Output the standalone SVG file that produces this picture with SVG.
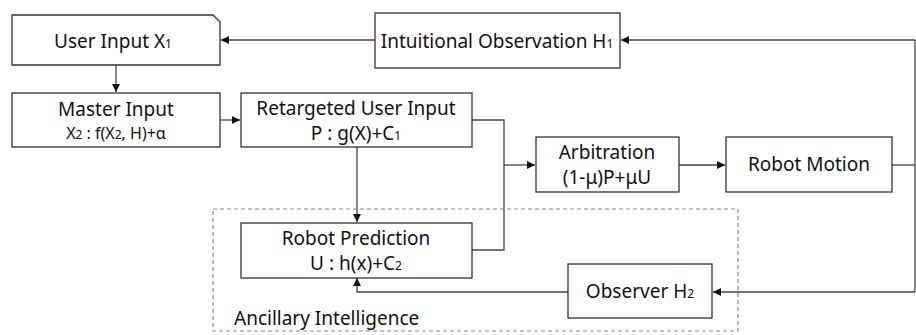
<svg xmlns="http://www.w3.org/2000/svg" width="916" height="335" viewBox="0 0 916 335">
  <style>
    .box { fill: #fff; stroke: #333; stroke-width: 1.3; }
    .wire { fill: none; stroke: #444; stroke-width: 1.3; }
    .t { font-family: "Noto Sans", "Open Sans", sans-serif; font-size: 19px; fill: #111; text-anchor: middle; }
    .s { font-size: 16px; }
    .sub { font-size: 12px; }
    .group { fill: none; stroke: #888; stroke-width: 1.2; stroke-dasharray: 4 3; }
  </style>
  <defs>
    <marker id="arrow" viewBox="0 0 10 10" refX="10" refY="5" markerWidth="8" markerHeight="8" markerUnits="userSpaceOnUse" orient="auto">
      <path d="M0,0 L10,5 L0,10 z" fill="#111"/>
    </marker>
  </defs>

  <rect width="916" height="335" fill="#fff"/>

  <!-- Ancillary Intelligence region -->
  <g id="ancillary">
    <rect class="group" x="213" y="209" width="525" height="122"/>
    <text class="t" x="234" y="325" style="text-anchor:start">Ancillary Intelligence</text>
  </g>

  <g id="connectors">
    <line class="wire" x1="915" y1="40" x2="621" y2="40" marker-end="url(#arrow)"/>
    <line class="wire" x1="375" y1="40" x2="221" y2="40" marker-end="url(#arrow)"/>
    <line class="wire" x1="116" y1="65" x2="116" y2="92" marker-end="url(#arrow)"/>
    <line class="wire" x1="220" y1="120" x2="240" y2="120" marker-end="url(#arrow)"/>
    <line class="wire" x1="357" y1="147" x2="357" y2="222" marker-end="url(#arrow)"/>
    <polyline class="wire" points="472,120 504,120 504,250 472,250"/>
    <line class="wire" x1="504" y1="165" x2="535" y2="165" marker-end="url(#arrow)"/>
    <line class="wire" x1="679" y1="165" x2="725" y2="165" marker-end="url(#arrow)"/>
    <polyline class="wire" points="892,165 915,165"/>
    <line class="wire" x1="915" y1="40" x2="915" y2="292"/>
    <line class="wire" x1="915" y1="292" x2="713" y2="292" marker-end="url(#arrow)"/>
    <polyline class="wire" points="568,292 357,292 357,278" marker-end="url(#arrow)"/>
  </g>

  <g id="user-input">
    <path class="box" d="M12,15 H213 L220,22 V65 H12 Z"/>
    <text class="t" x="113" y="48">User Input X<tspan class="sub">1</tspan></text>
  </g>

  <g id="intuitional-observation">
    <rect class="box" x="375" y="13" width="245" height="55"/>
    <text class="t" x="497" y="48">Intuitional Observation H<tspan class="sub">1</tspan></text>
  </g>

  <g id="master-input">
    <rect class="box" x="12" y="93" width="208" height="54"/>
    <text class="t" x="116" y="116">Master Input</text>
    <text class="t s" x="116" y="139">X<tspan class="sub">2</tspan> : f(X<tspan class="sub">2</tspan>, H)+α</text>
  </g>

  <g id="retargeted-input">
    <rect class="box" x="241" y="93" width="231" height="54"/>
    <text class="t" x="356" y="115">Retargeted User Input</text>
    <text class="t" x="356" y="140">P : g(X)+C<tspan class="sub">1</tspan></text>
  </g>

  <g id="arbitration">
    <rect class="box" x="536" y="137" width="143" height="55"/>
    <text class="t" x="607" y="159">Arbitration</text>
    <text class="t" x="607" y="184">(1-μ)P+μU</text>
  </g>

  <g id="robot-motion">
    <rect class="box" x="726" y="137" width="166" height="55"/>
    <text class="t" x="809" y="171">Robot Motion</text>
  </g>

  <g id="robot-prediction">
    <rect class="box" x="241" y="223" width="231" height="55"/>
    <text class="t" x="356" y="245">Robot Prediction</text>
    <text class="t" x="356" y="270">U : h(x)+C<tspan class="sub">2</tspan></text>
  </g>

  <g id="observer">
    <rect class="box" x="568" y="264" width="144" height="54"/>
    <text class="t" x="640" y="298">Observer H<tspan class="sub">2</tspan></text>
  </g>
</svg>
